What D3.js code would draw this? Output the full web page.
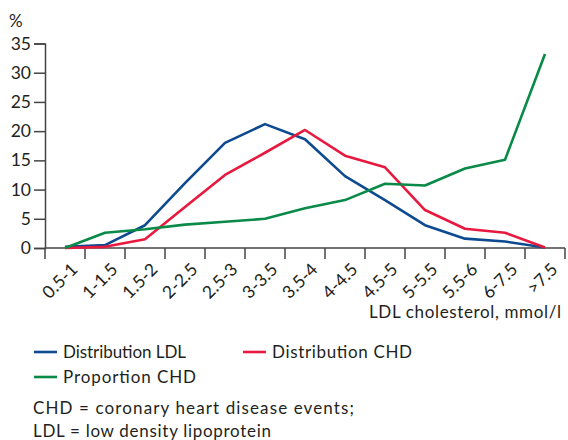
<!DOCTYPE html>
<html>
<head>
<meta charset="utf-8">
<script src="https://cdn.jsdelivr.net/npm/d3@7"></script>
<style>
  body { margin: 0; background: #fff; }
  svg { display: block; font-family: Lato, "Open Sans", sans-serif; }
</style>
</head>
<body>
<svg id="chart" width="568" height="440"></svg>
<script>
// categories on x
const categories = ["0.5-1", "1-1.5", "1.5-2", "2-2.5", "2.5-3", "3-3.5", "3.5-4",
  "4-4.5", "4.5-5", "5-5.5", "5.5-6", "6-7.5", ">7.5"];

// series values (%)
const distLDL = [0.2, 0.5, 3.9, 11.1, 18.0, 21.2, 18.6, 12.3, 8.2, 3.9, 1.6, 1.1, 0.1];
const distCHD = [0, 0.2, 1.5, 7.0, 12.5, 16.3, 20.2, 15.8, 13.8, 6.5, 3.3, 2.6, 0.1];
const propCHD = [0, 2.6, 3.2, 4.0, 4.5, 5.0, 6.8, 8.2, 11.0, 10.7, 13.6, 15.1, 33.2];

const yTicks = [0, 5, 10, 15, 20, 25, 30, 35];

const series = [
  { name: "Distribution LDL", values: distLDL, color: "#0d4a8f" },
  { name: "Distribution CHD", values: distCHD, color: "#e8193f" },
  { name: "Proportion CHD", values: propCHD, color: "#0a8a48" }
];

const svg = d3.select("#chart");
const textColor = "#231f20";
const axisColor = "#444";

const x = d3.scaleBand().domain(categories).range([45, 565]);
const y = d3.scaleLinear().domain([0, 35]).range([248, 43.5]);

// y axis
const yAxis = svg.append("g")
  .attr("transform", "translate(45,0)")
  .call(d3.axisLeft(y).tickValues(yTicks).tickSize(11).tickPadding(3));
yAxis.select(".domain").attr("stroke", axisColor).attr("stroke-width", 1.5);
yAxis.selectAll(".tick line").attr("stroke", axisColor).attr("stroke-width", 1.5);
yAxis.selectAll("text")
  .attr("fill", textColor)
  .style("font-size", "17.5px")
  .style("font-family", "Lato, sans-serif");

// x axis: ticks on band edges
const xAxis = svg.append("g").attr("transform", "translate(0,248)");
xAxis.append("line")
  .attr("x1", 45).attr("x2", 565)
  .attr("stroke", axisColor).attr("stroke-width", 1.5);
const edges = categories.map(c => x(c)).concat([x.range()[1]]);
xAxis.selectAll(".edge")
  .data(edges)
  .enter().append("line")
  .attr("class", "edge")
  .attr("x1", d => d).attr("x2", d => d)
  .attr("y1", 0).attr("y2", 11)
  .attr("stroke", axisColor).attr("stroke-width", 1.5);
xAxis.selectAll(".lab")
  .data(categories)
  .enter().append("text")
  .attr("class", "lab")
  .attr("transform", d => `translate(${x(d) + x.bandwidth() / 2 + 5},${14}) rotate(-45)`)
  .attr("text-anchor", "end")
  .attr("dy", "0.7em")
  .attr("fill", textColor)
  .style("font-size", "17.5px")
  .text(d => d);

// unit label and x title
svg.append("text")
  .attr("x", 9).attr("y", 27)
  .attr("fill", textColor)
  .style("font-size", "17px")
  .text("%");
svg.append("text")
  .attr("x", 369).attr("y", 318)
  .attr("textLength", 192).attr("lengthAdjust", "spacing")
  .attr("fill", textColor)
  .style("font-size", "17px")
  .text("LDL cholesterol, mmol/l");

// lines
const line = d3.line()
  .x((d, i) => x(categories[i]) + x.bandwidth() / 2)
  .y(d => y(d));

svg.selectAll(".series")
  .data(series)
  .enter().append("path")
  .attr("class", "series")
  .attr("d", d => line(d.values))
  .attr("fill", "none")
  .attr("stroke", d => d.color)
  .attr("stroke-width", 2.6)
  .attr("stroke-linejoin", "round");

// legend
const legendPos = [[34, 352], [243, 352], [34, 377]];
const legendLen = [123, 140, 133];
const lg = svg.selectAll(".legend")
  .data(series)
  .enter().append("g")
  .attr("class", "legend")
  .attr("transform", (d, i) => `translate(${legendPos[i][0]},${legendPos[i][1]})`);
lg.append("line")
  .attr("x1", 0).attr("x2", 23)
  .attr("stroke", d => d.color).attr("stroke-width", 2.6);
lg.append("text")
  .attr("x", 29).attr("dy", "0.36em")
  .attr("textLength", (d, i) => legendLen[i]).attr("lengthAdjust", "spacing")
  .attr("fill", textColor)
  .style("font-size", "17px")
  .text(d => d.name);

// footnote
svg.append("text")
  .attr("x", 33).attr("y", 414)
  .attr("textLength", 321).attr("lengthAdjust", "spacing")
  .attr("fill", textColor)
  .style("font-size", "17px")
  .text("CHD = coronary heart disease events;");
svg.append("text")
  .attr("x", 33).attr("y", 437)
  .attr("textLength", 238).attr("lengthAdjust", "spacing")
  .attr("fill", textColor)
  .style("font-size", "17px")
  .text("LDL = low density lipoprotein");
</script>
</body>
</html>
